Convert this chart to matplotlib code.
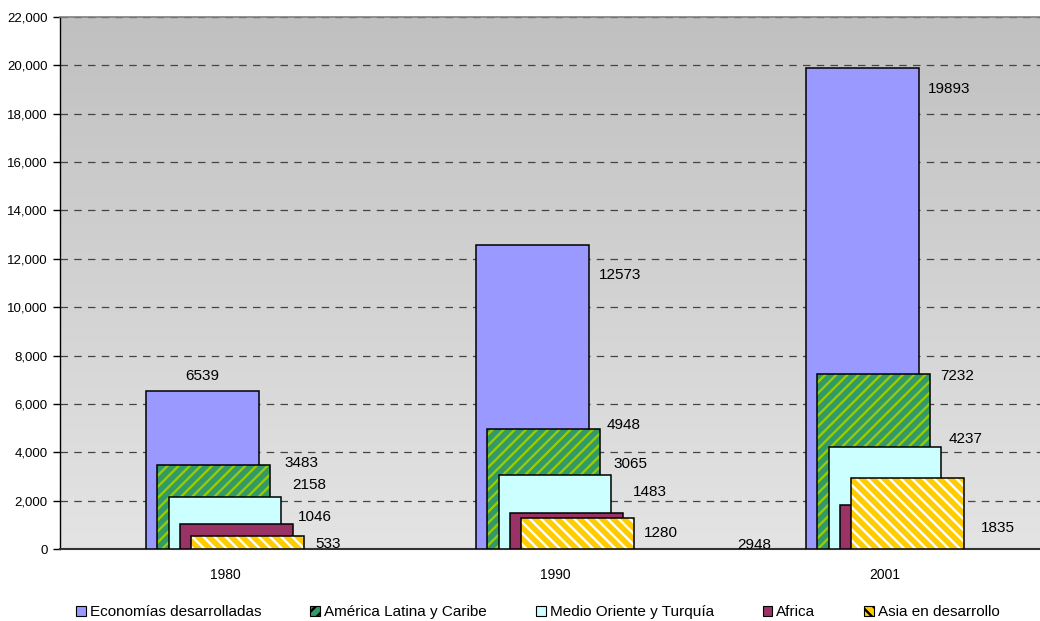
import numpy as np
import matplotlib.pyplot as plt
from matplotlib.colors import LinearSegmentedColormap
from matplotlib.patches import Patch

plt.rcParams['font.family'] = ['Liberation Sans', 'DejaVu Sans']
plt.rcParams['hatch.linewidth'] = 1.7

years = ["1980", "1990", "2001"]
series = ["Economías desarrolladas", "América Latina y Caribe",
          "Medio Oriente y Turquía", "Africa", "Asia en desarrollo"]
economias = [6539, 12573, 19893]
america = [3483, 4948, 7232]
medio = [2158, 3065, 4237]
africa = [1046, 1483, 1835]
asia = [533, 1280, 2948]
values = [economias, america, medio, africa, asia]

face = ["#9999FF", "#339966", "#CCFFFF", "#993366", "#FFCC00"]
hatch = [None, "///", None, None, "\\\\\\"]
hatch_col = [None, "#99CC00", None, None, "#FFFFFF"]

# label offsets in pixels from (bar right edge, bar top), per series then per year
label_off = [
    [(-73, 15), (10, -30), (9, -21)],
    [(14, 2), (7, 4), (10, -2)],
    [(11, 12), (2, 11), (7, 8)],
    [(5, 7), (10, 21), (28, -23)],
    [(11, -8), (10, -15), (-227, -67)],
]

fig = plt.figure(figsize=(10.4, 6.21), dpi=100)
ax = fig.add_axes([60 / 1040, 1 - 549 / 621, 990 / 1040, 532 / 621])

# gradient background
cmap = LinearSegmentedColormap.from_list("bg", ["#E4E4E4", "#C0C0C0"])
grad = np.linspace(0, 1, 256).reshape(-1, 1)
ax.imshow(grad, extent=[0, 1, 0, 1], transform=ax.transAxes, aspect="auto",
          cmap=cmap, origin="lower", zorder=0)

x = np.arange(len(years))
width = 0.342
step = 0.0345

for i, vals in enumerate(values):
    pos = x + (i - 2) * step
    if hatch[i]:
        ax.bar(pos, vals, width, color=face[i], hatch=hatch[i],
               edgecolor=hatch_col[i], linewidth=0, zorder=3 + i)
        ax.bar(pos, vals, width, fill=False, edgecolor="black",
               linewidth=1.1, zorder=3 + i)
    else:
        ax.bar(pos, vals, width, color=face[i], edgecolor="black",
               linewidth=1.1, zorder=3 + i)
    for j, v in enumerate(vals):
        dx, dy = label_off[i][j]
        ax.annotate(str(v), xy=(pos[j] + width / 2, v), xytext=(dx, dy),
                    textcoords="offset pixels", ha="left", va="center",
                    fontsize=11, zorder=10)

ax.set_xlim(-0.5, 2.5)
ax.set_ylim(0, 22000)
ax.set_yticks(np.arange(0, 22001, 2000))
ax.set_yticklabels([f"{t:,}" for t in range(0, 22001, 2000)], fontsize=9.5)
ax.set_xticks(x)
ax.set_xticklabels(years, fontsize=10)
ax.tick_params(axis="x", length=0, pad=14)
ax.tick_params(axis="y", length=5, width=1, direction="out", pad=4)

ax.yaxis.grid(True, linestyle=(0, (6, 5)), color="#444444", linewidth=0.9, zorder=1)
ax.set_axisbelow(True)

ax.spines["right"].set_visible(False)
ax.spines["top"].set_color("#808080")
ax.spines["top"].set_linewidth(1.2)
ax.spines["left"].set_color("black")
ax.spines["left"].set_linewidth(1.0)
ax.spines["bottom"].set_color("#333333")
ax.spines["bottom"].set_linewidth(1.5)

handles = []
for i, name in enumerate(series):
    if hatch[i]:
        handles.append(Patch(facecolor=face[i], edgecolor="black", hatch=hatch[i],
                             linewidth=0.8, label=name))
    else:
        handles.append(Patch(facecolor=face[i], edgecolor="black", linewidth=0.8,
                             label=name))
fig.legend(handles=handles, loc="center", bbox_to_anchor=(538 / 1040, 1 - 612 / 621),
           ncol=5, frameon=False, fontsize=11, handlelength=0.65, handleheight=0.65,
           handletextpad=0.25, columnspacing=3.2)

fig.savefig("out.png", dpi=100)
